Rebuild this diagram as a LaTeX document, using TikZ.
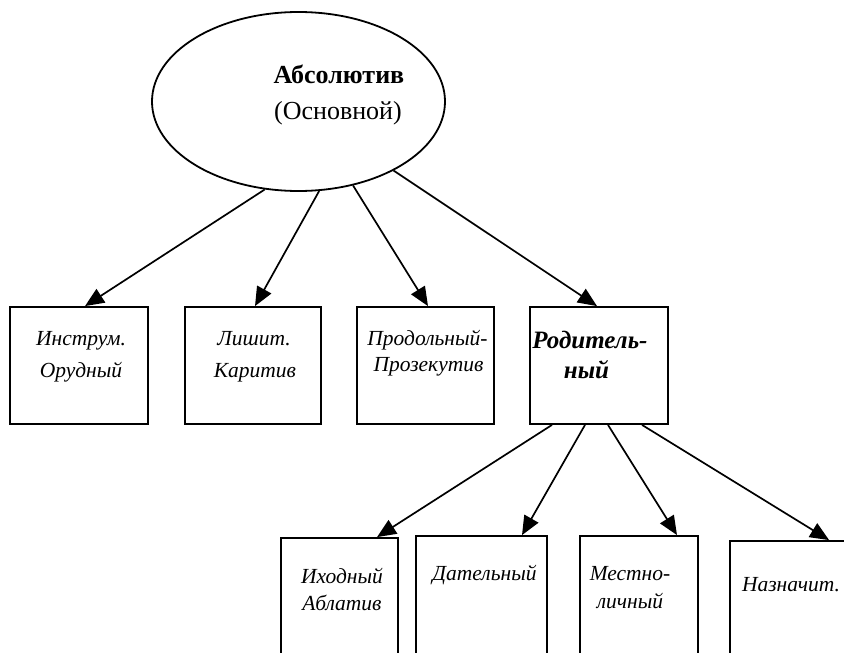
\documentclass[tikz,border=0pt]{standalone}
\usepackage{fontspec}
\setmainfont{Liberation Serif}
\usetikzlibrary{arrows.meta,calc,shapes.geometric}
\begin{document}
\begin{tikzpicture}[x=1pt,y=-1pt,
  box/.style={draw,line width=1.8pt,rectangle,inner sep=0pt},
  txt/.style={anchor=base,inner sep=0pt,font=\fontsize{21.5}{25}\selectfont\itshape},
  big/.style={anchor=base,inner sep=0pt,font=\fontsize{26}{30}\selectfont},
  arr/.style={line width=1.7pt,-{Triangle[length=19pt,width=16pt]}}]
\useasboundingbox (0,0) rectangle (844,653);
\fill[white] (0,0) rectangle (844,653);
\clip (0,0) rectangle (844,653);
% ellipse
\node[draw,ellipse,line width=1.8pt,minimum width=293pt,minimum height=179pt,inner sep=0pt] (ell) at (298.5,101.5) {};
\node[big,font=\fontsize{26}{30}\selectfont\bfseries] (t0a) at (339,83) {Абсолютив};
\node[big] (t0b) at (338,119) {(Основной)};
% first row
\node[box,minimum width=138pt,minimum height=117pt] (b1) at (79,365.5) {};
\node[box,minimum width=136pt,minimum height=117pt] (b2) at (253,365.5) {};
\node[box,minimum width=137pt,minimum height=117pt] (b3) at (425.5,365.5) {};
\node[box,minimum width=138pt,minimum height=117pt] (b4) at (599,365.5) {};
% second row
\node[box,minimum width=117pt,minimum height=132pt] (b5) at (339.5,604) {};
\node[box,minimum width=131pt,minimum height=134pt] (b6) at (481.5,603) {};
\node[box,minimum width=118pt,minimum height=134pt] (b7) at (639,603) {};
\node[box,minimum width=170pt,minimum height=129pt] (b8) at (815,605.5) {};
% texts
\node[txt] (t1a) at (81,345) {Инструм.};
\node[txt] (t1b) at (81,377) {Орудный};
\node[txt] (t2a) at (254,345) {Лишит.};
\node[txt] (t2b) at (255,377) {Каритив};
\node[txt] (t3a) at (427.5,345) {Продольный-};
\node[txt] (t3b) at (428.5,371) {Прозекутив};
\node[txt,font=\fontsize{25}{29}\selectfont\bfseries\itshape] (t4a) at (590,348) {Родитель-};
\node[txt,font=\fontsize{25}{29}\selectfont\bfseries\itshape] (t4b) at (586.5,378) {ный};
\node[txt] (t5a) at (342,583) {Иходный};
\node[txt] (t5b) at (342,610) {Аблатив};
\node[txt] (t6a) at (484.5,580) {Дательный};
\node[txt] (t7a) at (630,580) {Местно-};
\node[txt] (t7b) at (630,608) {личный};
\node[txt] (t8a) at (791,591) {Назначит.};
% arrows
\draw[arr] (ell.249) -- ($(b1.north)+(6,0)$);
\draw[arr] (ell.283.5) -- ($(b2.north)+(2,0)$);
\draw[arr] (ell.303) -- ($(b3.north)+(2.5,0)$);
\draw[arr] (ell.324) -- ($(b4.north)+(-2,0)$);
\draw[arr] ($(b4.south)+(-47,0)$) -- ($(b5.north)+(37.5,0)$);
\draw[arr] ($(b4.south)+(-14,0)$) -- ($(b6.north)+(40.5,0)$);
\draw[arr] ($(b4.south)+(9,0)$) -- ($(b7.north)+(38,0)$);
\draw[arr] ($(b4.south)+(43,0)$) -- ($(b8.north west)+(100,0)$);
\end{tikzpicture}
\end{document}
